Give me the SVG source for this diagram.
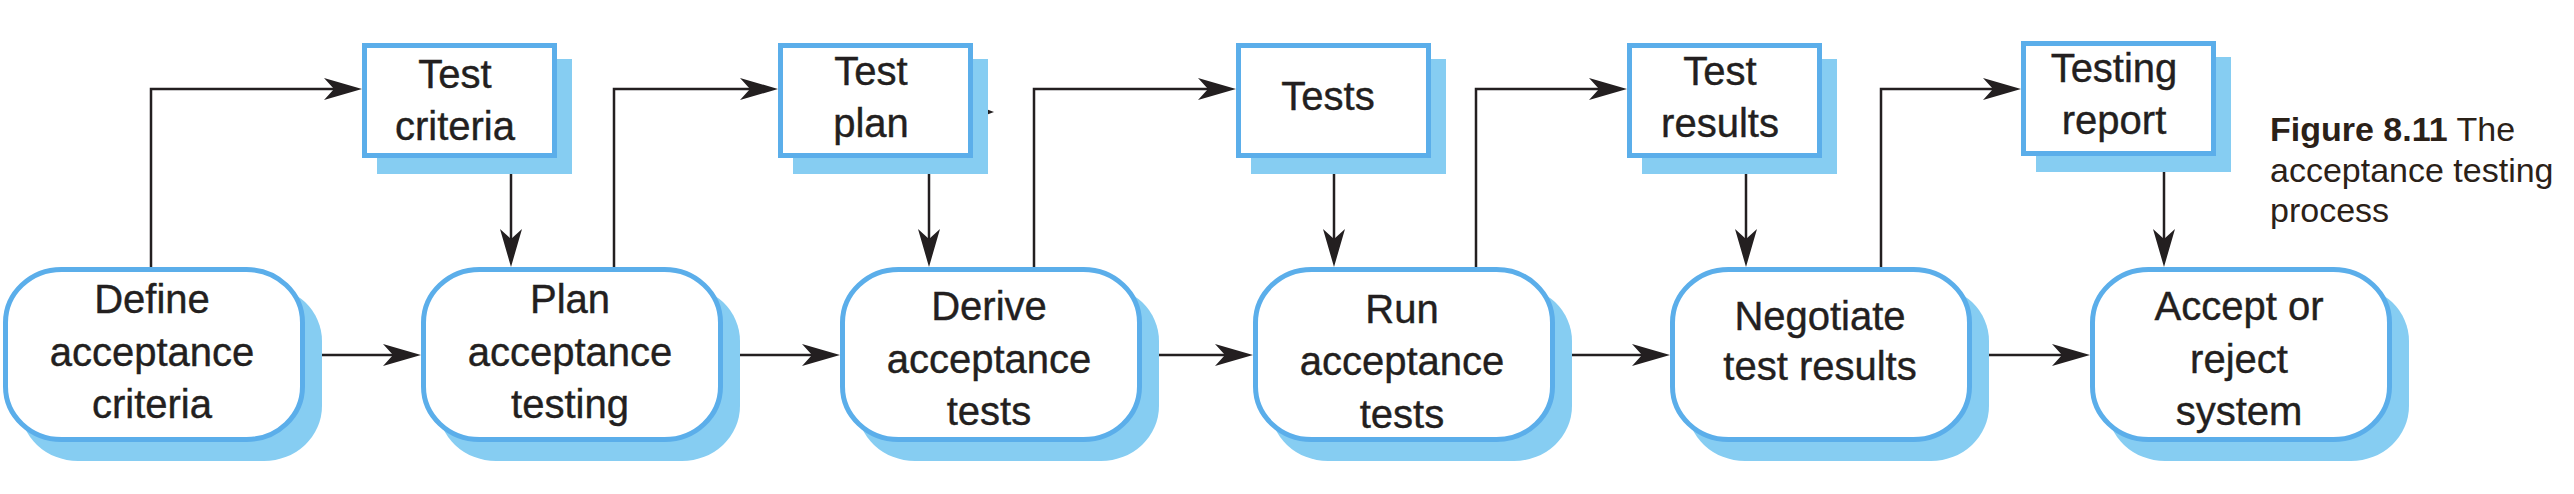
<svg xmlns="http://www.w3.org/2000/svg" width="2574" height="494" viewBox="0 0 2574 494">
<defs>
<style>
.shadow{fill:#86CDF2;stroke:none}
.node{fill:#ffffff;stroke:#5BAEEA;stroke-width:5}
.lbl{font-family:"Liberation Sans",Arial,sans-serif;font-size:40px;fill:#231f20;stroke:#231f20;stroke-width:0.4;text-anchor:middle}
.conn{fill:none;stroke:#231f20;stroke-width:2.5}
.cap{font-family:"Liberation Sans",Arial,sans-serif;font-size:34px;fill:#2b2118}
</style>
<marker id="ah" markerUnits="userSpaceOnUse" markerWidth="40" markerHeight="24" viewBox="0 0 40 24" refX="26" refY="12" orient="auto">
<path d="M0,1 L38,12 L0,23 L10,12 Z" fill="#231f20"/>
</marker>
</defs>
<rect width="2574" height="494" fill="#ffffff"/>

<g id="connectors">
<path class="conn" marker-end="url(#ah)" d="M305,355 H409"/>
<path class="conn" marker-end="url(#ah)" d="M723,355 H828"/>
<path class="conn" marker-end="url(#ah)" d="M1142,355 H1241"/>
<path class="conn" marker-end="url(#ah)" d="M1555,355 H1658"/>
<path class="conn" marker-end="url(#ah)" d="M1972,355 H2078"/>
<path class="conn" marker-end="url(#ah)" d="M151,267 V89 H350"/>
<path class="conn" marker-end="url(#ah)" d="M614,267 V89 H766"/>
<path class="conn" marker-end="url(#ah)" d="M1034,267 V89 H1224"/>
<path class="conn" marker-end="url(#ah)" d="M1476,267 V89 H1615"/>
<path class="conn" marker-end="url(#ah)" d="M1881,267 V89 H2009"/>
<path class="conn" marker-end="url(#ah)" d="M511,158 V255"/>
<path class="conn" marker-end="url(#ah)" d="M929,158 V255"/>
<path class="conn" marker-end="url(#ah)" d="M1334,158 V255"/>
<path class="conn" marker-end="url(#ah)" d="M1746,158 V255"/>
<path class="conn" marker-end="url(#ah)" d="M2164,156 V255"/>
<path d="M986,109 L994,112 L986,115 Z" fill="#231f20"/>
</g>

<g id="define">
<rect class="shadow" x="20" y="286" width="302" height="175" rx="58" ry="55"/>
<rect class="node" x="5.5" y="269.5" width="297" height="170" rx="56" ry="53"/>
<text class="lbl" x="152" y="313">Define</text>
<text class="lbl" x="152" y="366">acceptance</text>
<text class="lbl" x="152" y="418">criteria</text>
</g>
<g id="plan">
<rect class="shadow" x="438" y="286" width="302" height="175" rx="58" ry="55"/>
<rect class="node" x="423.5" y="269.5" width="297" height="170" rx="56" ry="53"/>
<text class="lbl" x="570" y="313">Plan</text>
<text class="lbl" x="570" y="366">acceptance</text>
<text class="lbl" x="570" y="418">testing</text>
</g>
<g id="derive">
<rect class="shadow" x="857" y="286" width="302" height="175" rx="58" ry="55"/>
<rect class="node" x="842.5" y="269.5" width="297" height="170" rx="56" ry="53"/>
<text class="lbl" x="989" y="320">Derive</text>
<text class="lbl" x="989" y="373">acceptance</text>
<text class="lbl" x="989" y="425">tests</text>
</g>
<g id="run">
<rect class="shadow" x="1270" y="286" width="302" height="175" rx="58" ry="55"/>
<rect class="node" x="1255.5" y="269.5" width="297" height="170" rx="56" ry="53"/>
<text class="lbl" x="1402" y="323">Run</text>
<text class="lbl" x="1402" y="375">acceptance</text>
<text class="lbl" x="1402" y="428">tests</text>
</g>
<g id="negotiate">
<rect class="shadow" x="1687" y="286" width="302" height="175" rx="58" ry="55"/>
<rect class="node" x="1672.5" y="269.5" width="297" height="170" rx="56" ry="53"/>
<text class="lbl" x="1820" y="330">Negotiate</text>
<text class="lbl" x="1820" y="380">test results</text>
</g>
<g id="accept">
<rect class="shadow" x="2107" y="286" width="302" height="175" rx="58" ry="55"/>
<rect class="node" x="2092.5" y="269.5" width="297" height="170" rx="56" ry="53"/>
<text class="lbl" x="2239" y="320">Accept or</text>
<text class="lbl" x="2239" y="373">reject</text>
<text class="lbl" x="2239" y="425">system</text>
</g>

<g id="test-criteria">
<rect class="shadow" x="377" y="59" width="195" height="115"/>
<rect class="node" x="364.5" y="45.5" width="190" height="110"/>
<text class="lbl" x="455" y="88">Test</text>
<text class="lbl" x="455" y="140">criteria</text>
</g>
<g id="test-plan">
<rect class="shadow" x="793" y="59" width="195" height="115"/>
<rect class="node" x="780.5" y="45.5" width="190" height="110"/>
<text class="lbl" x="871" y="85">Test</text>
<text class="lbl" x="871" y="137">plan</text>
</g>
<g id="tests">
<rect class="shadow" x="1251" y="59" width="195" height="115"/>
<rect class="node" x="1238.5" y="45.5" width="190" height="110"/>
<text class="lbl" x="1328" y="110">Tests</text>
</g>
<g id="test-results">
<rect class="shadow" x="1642" y="59" width="195" height="115"/>
<rect class="node" x="1629.5" y="45.5" width="190" height="110"/>
<text class="lbl" x="1720" y="85">Test</text>
<text class="lbl" x="1720" y="137">results</text>
</g>
<g id="testing-report">
<rect class="shadow" x="2036" y="57" width="195" height="115"/>
<rect class="node" x="2023.5" y="43.5" width="190" height="110"/>
<text class="lbl" x="2114" y="82">Testing</text>
<text class="lbl" x="2114" y="134">report</text>
</g>

<g id="caption">
<text class="cap" x="2270" y="141"><tspan font-weight="bold">Figure 8.11</tspan>  The</text>
<text class="cap" x="2270" y="182">acceptance testing</text>
<text class="cap" x="2270" y="222">process</text>
</g>
</svg>
